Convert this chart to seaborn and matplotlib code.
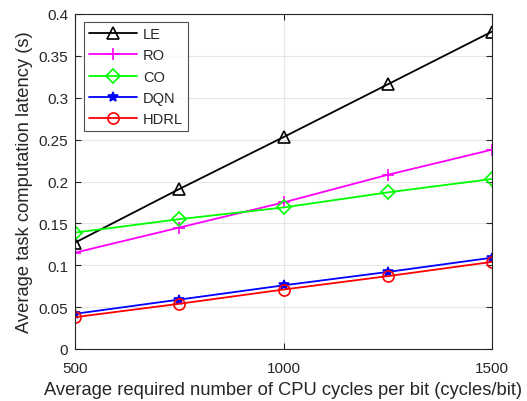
import numpy as np
import pandas as pd
import matplotlib
matplotlib.use("Agg")
import matplotlib.pyplot as plt
import seaborn as sns

cycles = [500, 750, 1000, 1250, 1500]
le = [0.127, 0.191, 0.253, 0.316, 0.379]
ro = [0.115, 0.145, 0.175, 0.208, 0.238]
co = [0.139, 0.155, 0.169, 0.187, 0.203]
dqn = [0.042, 0.059, 0.076, 0.092, 0.109]
hdrl = [0.038, 0.054, 0.071, 0.087, 0.104]

series = {"LE": le, "RO": ro, "CO": co, "DQN": dqn, "HDRL": hdrl}
colors = {"LE": "black", "RO": "#ff00ff", "CO": "#00ff00", "DQN": "#0000ff", "HDRL": "#ff0000"}
markers = {"LE": "^", "RO": "+", "CO": "D", "DQN": "*", "HDRL": "o"}
msizes = {"LE": 9, "RO": 9, "CO": 7, "DQN": 7, "HDRL": 8}

rows = []
for name, vals in series.items():
    for c, v in zip(cycles, vals):
        rows.append({"cycles": c, "latency": v, "method": name})
df = pd.DataFrame(rows)

sns.set_theme(style="white")
plt.rcParams["font.family"] = ["Liberation Sans", "DejaVu Sans"]

fig = plt.figure(figsize=(5.27, 4.02), dpi=100)
ax = fig.add_axes([75/527, 1 - 350/402, (492-75)/527, (350-15)/402])

for name in series:
    sub = df[df["method"] == name]
    filled = markers[name] in ("+", "*")
    sns.lineplot(data=sub, x="cycles", y="latency", ax=ax, color=colors[name],
                 marker=markers[name], markersize=msizes[name],
                 markerfacecolor=colors[name] if filled else "none",
                 markeredgecolor=colors[name], markeredgewidth=1.2,
                 linewidth=1.3, label=name)

ax.set_xlim(500, 1500)
ax.set_ylim(0, 0.4)
ax.set_xticks([500, 1000, 1500])
ax.set_yticks(np.arange(0, 0.401, 0.05))
ax.set_yticklabels(["0", "0.05", "0.1", "0.15", "0.2", "0.25", "0.3", "0.35", "0.4"])
ax.grid(True, color="#e6e6e6", linewidth=0.8)
ax.set_axisbelow(True)
for sp in ax.spines.values():
    sp.set_color("#262626")
    sp.set_linewidth(0.8)
ax.tick_params(direction="in", length=4, width=0.8, colors="#262626", labelsize=11,
               top=True, right=True, bottom=True, left=True)
ax.tick_params(axis="x", pad=9)
ax.tick_params(axis="y", pad=5)
ax.set_xlabel("Average required number of CPU cycles per bit (cycles/bit)", fontsize=13.2,
              color="#262626", labelpad=4)
ax.set_ylabel("Average task computation latency (s)", fontsize=13.2, color="#262626", labelpad=4)

leg = ax.legend(loc="upper left", bbox_to_anchor=(0.022, 0.976), borderaxespad=0,
                fontsize=10.5, handlelength=3.3,
                frameon=True, fancybox=False, edgecolor="#262626", labelspacing=0.5,
                borderpad=0.35, handletextpad=0.4)
leg.get_frame().set_linewidth(0.8)

fig.savefig("out.png", dpi=100)
